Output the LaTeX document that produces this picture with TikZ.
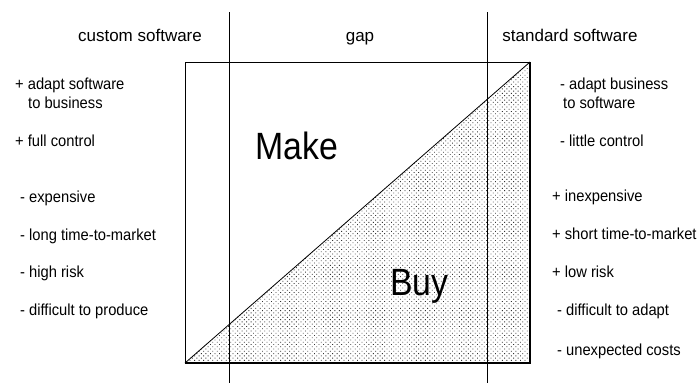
\documentclass[tikz,border=0pt]{standalone}
\usepackage{fontspec}
\setmainfont{Liberation Sans}
\newfontfamily\bigfont[FakeStretch=0.89]{Liberation Sans}
\newfontfamily\itemfont[FakeStretch=0.92]{Liberation Sans}
\usetikzlibrary{patterns.meta}
\tikzset{
  title/.style={inner sep=0pt, anchor=base, font=\fontsize{17}{20}\selectfont},
  item/.style={inner sep=0pt, anchor=base west, font=\itemfont\fontsize{16}{19}\selectfont},
  big/.style={inner sep=0pt, anchor=base west, font=\bigfont\fontsize{38}{44}\selectfont},
  thin/.style={line width=0.8pt},
  thick edge/.style={line width=1.7pt}
}
\begin{document}
\begin{tikzpicture}[x=1pt,y=-1pt]
\useasboundingbox (0,0) rectangle (699,383);
% box corners
\coordinate (TL) at (185,62);
\coordinate (TR) at (530,62);
\coordinate (BR) at (530,363);
\coordinate (BL) at (185,363);
% dotted triangle
\fill[pattern={Dots[distance=3.2pt, radius=0.6pt, angle=45]}, pattern color=black!80] (BL) -- (TR) -- (BR) -- cycle;
% box
\draw[thin] (BL) -- (TL) -- (TR);
\draw[thick edge] (TR) -- (BR) -- (BL);
\draw[thin] (BL) -- (TR);
% vertical separators
\coordinate (V1t) at (229,12);
\coordinate (V1b) at (229,383);
\coordinate (V2t) at (487,12);
\coordinate (V2b) at (487,383);
\draw[thin] (V1t) -- (V1b);
\draw[thin] (V2t) -- (V2b);
% titles
\node[title] (t1) at (140,41.5) {custom software};
\node[title] (t2) at (360,41.5) {gap};
\node[title] (t3) at (570,41.5) {standard software};
% Make / Buy
\node[big] (make) at (255,159.3) {Make};
\node[big] (buy) at (390,295) {Buy};
% left list
\node[item] (l1) at (15,89.3) {+ adapt software};
\node[item] (l1b) at (28,108.3) {to business};
\node[item] (l2) at (15,146) {+ full control};
\node[item] (l3) at (20,202.7) {- expensive};
\node[item] (l4) at (20,240) {- long time-to-market};
\node[item] (l5) at (20,277) {- high risk};
\node[item] (l6) at (20,315) {- difficult to produce};
% right list
\node[item] (r1) at (560,89.3) {- adapt business};
\node[item] (r1b) at (563,108.3) {to software};
\node[item] (r2) at (560,146) {- little control};
\node[item] (r3) at (552,201.7) {+ inexpensive};
\node[item] (r4) at (552,239) {+ short time-to-market};
\node[item] (r5) at (552,277) {+ low risk};
\node[item] (r6) at (557,315) {- difficult to adapt};
\node[item] (r7) at (557,355) {- unexpected costs};
\end{tikzpicture}
\end{document}
